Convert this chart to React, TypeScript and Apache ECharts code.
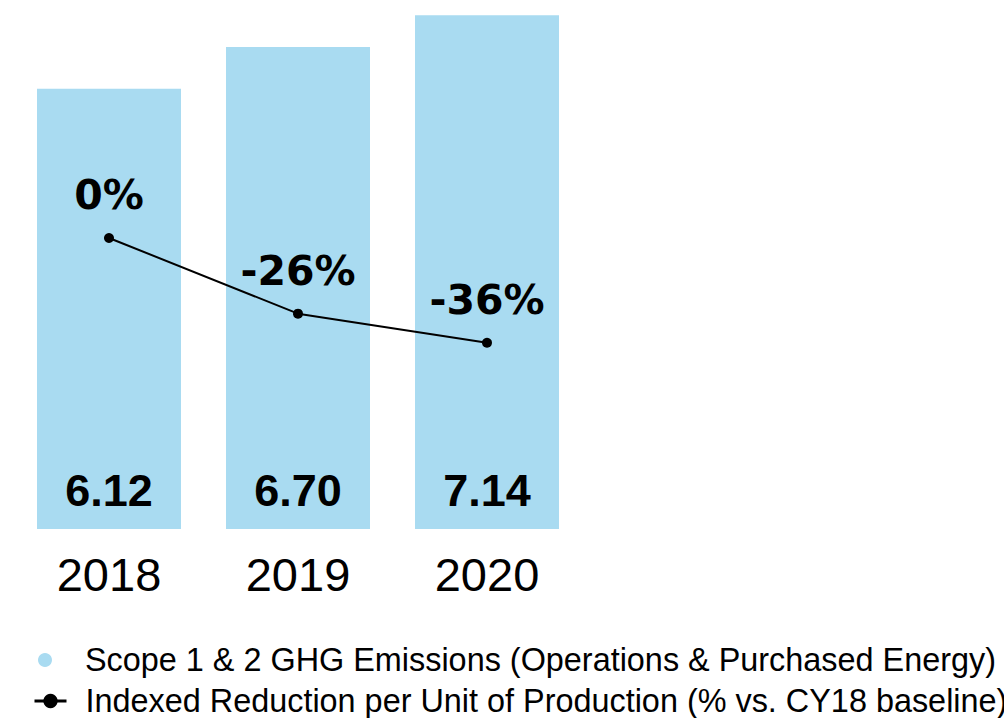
import React, { useEffect, useRef } from "react";
import * as echarts from "echarts";

const years = ["2018", "2019", "2020"];
const emissions = [6.12, 6.7, 7.14];
const reductionPct = [0, -26, -36];
const barName = "Scope 1 & 2 GHG Emissions (Operations & Purchased Energy)";
const lineName = "Indexed Reduction per Unit of Production (% vs. CY18 baseline)";

const legendText = (padLeft: number) => ({
  fontFamily: "Liberation Sans",
  fontSize: 32.4,
  lineHeight: 32,
  color: "#000",
  padding: [0, 0, 0, padLeft],
});

export default function App() {
  const ref = useRef<HTMLDivElement>(null);
  useEffect(() => {
    if (!ref.current) return;
    const chart = echarts.init(ref.current, null, { renderer: "svg" });
    chart.setOption({
      animation: false,
      backgroundColor: "#ffffff",
      grid: { left: 14.5, top: 11, width: 567, height: 518 },
      legend: [
        {
          orient: "horizontal",
          left: 33,
          top: 639,
          itemWidth: 32,
          itemHeight: 14,
          textStyle: legendText(19),
          data: [{ name: barName, icon: "circle" }],
        },
        {
          orient: "horizontal",
          left: 28,
          top: 680,
          itemWidth: 32,
          itemHeight: 18,
          lineStyle: { width: 3 },
          textStyle: legendText(14),
          data: [{ name: lineName }],
        },
      ],
      xAxis: {
        type: "category",
        data: years,
        axisLine: { show: false },
        axisTick: { show: false },
        axisLabel: {
          margin: 22,
          fontFamily: "Liberation Sans",
          fontSize: 47,
          lineHeight: 47,
          color: "#000",
        },
      },
      yAxis: [
        { type: "value", min: 0, max: 7.2, show: false },
        { type: "value", min: -100, max: 78, show: false },
      ],
      series: [
        {
          name: barName,
          type: "bar",
          data: emissions,
          barWidth: 144,
          itemStyle: { color: "#A9DBF1" },
          label: {
            show: true,
            position: "insideBottom",
            distance: 16,
            formatter: (p: any) => Number(p.value).toFixed(2),
            fontFamily: "Liberation Sans",
            fontWeight: "bold",
            fontSize: 45,
            lineHeight: 45,
            color: "#000",
          },
        },
        {
          name: lineName,
          type: "line",
          yAxisIndex: 1,
          data: reductionPct,
          symbol: "circle",
          symbolSize: 10,
          itemStyle: { color: "#000" },
          lineStyle: { color: "#000", width: 2 },
          label: {
            show: true,
            position: "top",
            distance: 17,
            formatter: (p: any) => p.value + "%",
            fontFamily: "DejaVu Sans",
            fontWeight: "bold",
            fontSize: 41,
            lineHeight: 41,
            color: "#000",
          },
        },
      ],
    });
    return () => chart.dispose();
  }, []);
  return (
    <div
      ref={ref}
      style={{ position: "fixed", left: 0, top: 0, width: 1004, height: 718 }}
    />
  );
}
